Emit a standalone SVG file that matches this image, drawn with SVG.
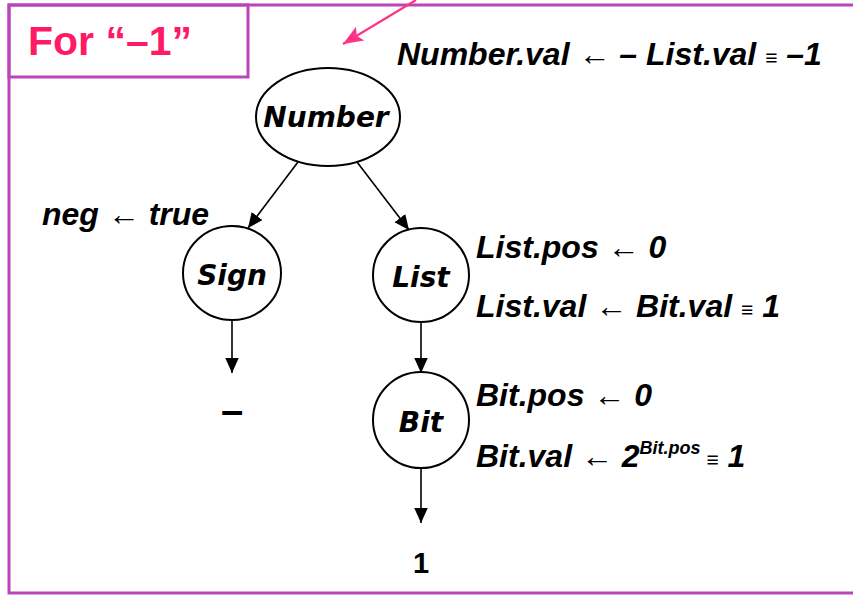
<svg xmlns="http://www.w3.org/2000/svg" width="853" height="595" viewBox="0 0 853 595">
<defs>
<marker id="ah" viewBox="0 0 10 10" refX="10" refY="5" markerWidth="15" markerHeight="15" markerUnits="userSpaceOnUse" orient="auto"><path d="M0,0.5 L10,5 L0,9.5 z" fill="#000"/></marker>
<marker id="ahp" viewBox="0 0 10 10" refX="10" refY="5" markerWidth="20" markerHeight="20" markerUnits="userSpaceOnUse" orient="auto"><path d="M0,1 L10,5 L0,9 L2,5 z" fill="#ff3385"/></marker>
<style>
.frame{fill:none;stroke:#bb44bb;stroke-width:3}
.node{fill:#fff;stroke:#000;stroke-width:2}
.lbl{font-family:"DejaVu Sans",Verdana,sans-serif;font-weight:bold;font-style:italic;font-size:28px;text-anchor:middle;fill:#000}
.eq{font-family:"Liberation Sans",Arial,sans-serif;font-weight:bold;font-style:italic;font-size:32px;fill:#000}
.edge{stroke:#000;stroke-width:1.6;fill:none;marker-end:url(#ah)}
.plain{font-family:"Liberation Sans",Arial,sans-serif;font-weight:bold;text-anchor:middle;fill:#000}
</style>
</defs>
<rect x="0" y="0" width="853" height="595" fill="#fff"/>
<rect class="frame" x="9" y="5" width="860" height="588"/>
<rect class="frame" x="9" y="5" width="239" height="72"/>
<text x="28" y="55" font-family="Liberation Sans,Arial,sans-serif" font-weight="bold" font-size="41" fill="#ff1a66">For “–1”</text>
<g id="connectors">
<line x1="416" y1="0" x2="343" y2="44" stroke="#ff3385" stroke-width="2.2" marker-end="url(#ahp)"/>
<line class="edge" x1="298" y1="162" x2="248" y2="228"/>
<line class="edge" x1="357" y1="162" x2="409" y2="230"/>
<line class="edge" x1="232" y1="320" x2="232" y2="373"/>
<line class="edge" x1="421" y1="322" x2="421" y2="373"/>
<line class="edge" x1="421" y1="468" x2="421" y2="523"/>
</g>
<g id="number"><ellipse class="node" cx="328" cy="117" rx="72" ry="49"/><text class="lbl" x="326" y="127" font-size="27">Number</text></g>
<g id="sign"><ellipse class="node" cx="232" cy="273" rx="49" ry="47"/><text class="lbl" x="232" y="285">Sign</text></g>
<g id="list"><ellipse class="node" cx="421" cy="275" rx="48" ry="47"/><text class="lbl" x="421" y="287">List</text></g>
<g id="bit"><ellipse class="node" cx="421" cy="420" rx="48" ry="48"/><text class="lbl" x="421" y="432">Bit</text></g>
<g id="labels">
<text class="eq" x="397" y="65">Number.val ←  – List.val <tspan font-size="21">≡</tspan> –1</text>
<text class="eq" x="42" y="225">neg ← true</text>
<text class="eq" x="476" y="258">List.pos ← 0</text>
<text class="eq" x="476" y="317">List.val ← Bit.val <tspan font-size="21">≡</tspan> 1</text>
<text class="eq" x="476" y="406">Bit.pos ← 0</text>
<text class="eq" x="476" y="467">Bit.val ← 2<tspan font-size="18" dy="-13">Bit.pos</tspan><tspan dy="13" font-size="21"> ≡</tspan> 1</text>
<text class="plain" x="232" y="424" font-size="40">–</text>
<text class="plain" x="421" y="573" font-size="29">1</text>
</g>
</svg>
